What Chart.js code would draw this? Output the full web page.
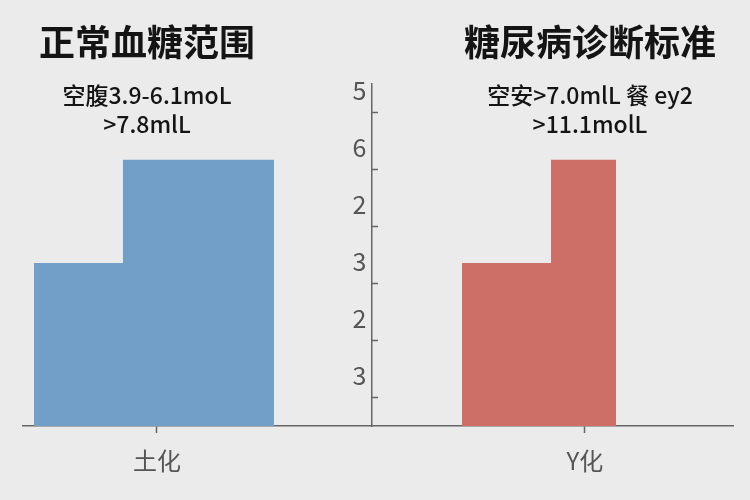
<!DOCTYPE html>
<html>
<head>
<meta charset="utf-8">
<script src="https://cdn.jsdelivr.net/npm/chart.js@4.4.1/dist/chart.umd.min.js"></script>
<style>
  html, body { margin: 0; padding: 0; background: #ebebeb; }
  #wrap { width: 750px; height: 500px; }
</style>
</head>
<body>
<div id="wrap"><canvas id="c" width="750" height="500"></canvas></div>
<script>
// ---- data ----
const PANEL_TITLES = ['正常血糖范围', '糖尿病诊断标准'];
const PANEL_NOTES_1 = ['空腹3.9-6.1moL', '空安>7.0mlL 餐 ey2'];
const PANEL_NOTES_2 = ['>7.8mlL', '>11.1molL'];
const CATEGORY_LABELS = ['土化', 'Y化'];
const CATEGORY_POS = [18.87, 79.15];
const Y_TICK_VALUES = [0.5, 1.5, 2.5, 3.5, 4.5, 5.5];
const Y_TICK_LABELS = ['3', '2', '3', '2', '6', '5'];
const Y_AXIS_AT = 49.15;
// step shapes: x edges and heights
const NORMAL_X = [1.55, 14.08, 35.35];
const NORMAL_Y = [2.86, 4.67, 4.67];
const DIAB_X = [61.83, 74.37, 83.52];
const DIAB_Y = [2.86, 4.67, 4.67];

const toPts = (xs, ys) => xs.map((x, i) => ({ x: x, y: ys[i] }));

const FONT = '"Noto Sans CJK SC", "Noto Sans", sans-serif';

const titlePlugin = {
  id: 'panelTitles',
  afterDraw(chart) {
    const ctx = chart.ctx;
    const centers = [147, 590];
    ctx.save();
    ctx.fillStyle = '#141414';
    ctx.textAlign = 'center';
    ctx.textBaseline = 'middle';
    PANEL_TITLES.forEach((t, i) => {
      ctx.font = 'bold 36px ' + FONT;
      ctx.fillText(t, centers[i], 42);
      ctx.font = '500 23px ' + FONT;
      ctx.fillText(PANEL_NOTES_1[i], centers[i], 95);
      ctx.fillText(PANEL_NOTES_2[i], centers[i], 124);
    });
    ctx.restore();
  }
};

new Chart(document.getElementById('c'), {
  type: 'line',
  data: {
    datasets: [
      {
        label: 'normal',
        data: toPts(NORMAL_X, NORMAL_Y),
        stepped: true,
        fill: 'origin',
        backgroundColor: '#719fc8',
        borderWidth: 0,
        pointRadius: 0
      },
      {
        label: 'diabetes',
        data: toPts(DIAB_X, DIAB_Y),
        stepped: true,
        fill: 'origin',
        backgroundColor: '#cd6e67',
        borderWidth: 0,
        pointRadius: 0
      }
    ]
  },
  options: {
    responsive: false,
    animation: false,
    layout: { padding: { top: 84, left: 23, right: 17, bottom: 0 } },
    plugins: { legend: { display: false }, title: { display: false }, tooltip: { enabled: false } },
    scales: {
      x: {
        type: 'linear',
        min: 0,
        max: 100,
        afterBuildTicks(s) { s.ticks = CATEGORY_POS.map(v => ({ value: v })); },
        afterFit(s) { s.height = 74; },
        ticks: {
          callback: (v, i) => CATEGORY_LABELS[i],
          color: '#555',
          font: { family: FONT, size: 24 },
          padding: 13,
          maxRotation: 0,
          autoSkip: false
        },
        grid: { drawOnChartArea: false, tickLength: 7, tickColor: '#666', tickWidth: 1.5 },
        border: { color: '#666', width: 1.5 }
      },
      y: {
        type: 'linear',
        min: 0,
        max: 6,
        position: { x: Y_AXIS_AT },
        afterBuildTicks(s) { s.ticks = Y_TICK_VALUES.map(v => ({ value: v })); },
        afterFit(s) { s.width = 0; },
        ticks: {
          callback: (v, i) => Y_TICK_LABELS[i] + ' ',
          color: '#555',
          font: { family: FONT, size: 25 },
          padding: 15,
          labelOffset: -22,
          autoSkip: false
        },
        grid: { drawOnChartArea: false, tickLength: -7, tickColor: '#666', tickWidth: 1.5 },
        border: { color: '#666', width: 1.5 }
      }
    }
  },
  plugins: [titlePlugin]
});
</script>
</body>
</html>
